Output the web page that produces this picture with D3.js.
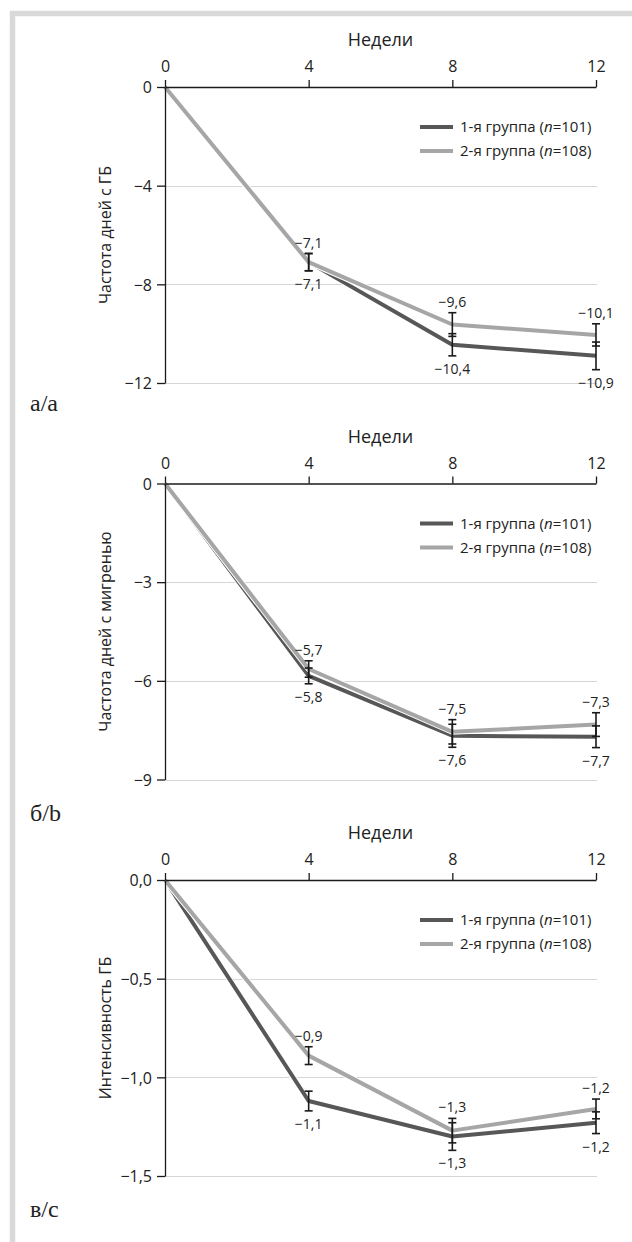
<!DOCTYPE html>
<html><head><meta charset="utf-8">
<script src="https://cdn.jsdelivr.net/npm/d3@7"></script>
<style>
body{margin:0;background:#fff}
svg{display:block}
text{fill:#222}
</style>
</head><body>
<svg id="chart" width="632" height="1242"></svg>
<script>
// ---------- data ----------
const weeks = [0, 4, 8, 12];
const weekTitle = "Недели";
const groupNames = ["1-я группа", "2-я группа"];
const groupN = [101, 108];

// panel а/a : frequency of headache days
const aTitle = "Частота дней с ГБ";
const aLetter = "а/a";
const aTicks = [0, -4, -8, -12];
const aG1 = [0, -7.1, -10.45, -10.9];
const aG2 = [0, -7.1, -9.63, -10.05];
const aE1 = [0, 0.35, 0.45, 0.56];
const aE2 = [0, 0.35, 0.48, 0.45];
const aL1 = ["", "−7,1", "−10,4", "−10,9"];
const aL2 = ["", "−7,1", "−9,6", "−10,1"];

// panel б/b : frequency of migraine days
const bTitle = "Частота дней с мигренью";
const bLetter = "б/b";
const bTicks = [0, -3, -6, -9];
const bG1 = [0, -5.85, -7.67, -7.7];
const bG2 = [0, -5.64, -7.55, -7.33];
const bE1 = [0, 0.24, 0.35, 0.33];
const bE2 = [0, 0.25, 0.37, 0.36];
const bL1 = ["", "−5,8", "−7,6", "−7,7"];
const bL2 = ["", "−5,7", "−7,5", "−7,3"];

// panel в/c : headache intensity
const cTitle = "Интенсивность ГБ";
const cLetter = "в/c";
const cTicks = [0, -0.5, -1.0, -1.5];
const cG1 = [0, -1.12, -1.30, -1.23];
const cG2 = [0, -0.89, -1.27, -1.16];
const cE1 = [0, 0.05, 0.07, 0.055];
const cE2 = [0, 0.045, 0.062, 0.05];
const cL1 = ["", "−1,1", "−1,3", "−1,2"];
const cL2 = ["", "−0,9", "−1,3", "−1,2"];

// ---------- build ----------
const panels = [
  {title: aTitle, letter: aLetter, ticks: aTicks, g1: aG1, g2: aG2, e1: aE1, e2: aE2, l1: aL1, l2: aL2, fmt: ".0f"},
  {title: bTitle, letter: bLetter, ticks: bTicks, g1: bG1, g2: bG2, e1: bE1, e2: bE2, l1: bL1, l2: bL2, fmt: ".0f"},
  {title: cTitle, letter: cLetter, ticks: cTicks, g1: cG1, g2: cG2, e1: cE1, e2: cE2, l1: cL1, l2: cL2, fmt: ".1f"}
];

const SANS = '"Open Sans", sans-serif';
const SERIF = '"Liberation Serif", "DejaVu Serif", serif';
const locale = d3.formatLocale({decimal: ",", thousands: " ", grouping: [3], currency: ["", ""], minus: "−"});
const svg = d3.select("#chart");

// frame (left and top)
svg.append("path")
  .attr("d", "M12.5,1300V13.5H700")
  .attr("fill", "none").attr("stroke", "#d9d9d9").attr("stroke-width", 5.5);

const dark = "#575757", light = "#a6a6a6";
const colors = [dark, light];
const x = d3.scaleLinear().domain([0, 12]).range([165, 596]);
const panelTop = [87, 483.5, 880];
const letterY = [411, 821, 1217];
const plotH = 296;

panels.forEach((p, i) => {
  const top = panelTop[i];
  const y = d3.scaleLinear().domain([d3.min(p.ticks), 0]).range([top + plotH, top]);
  const g = svg.append("g").style("font-family", SANS);

  // gridlines
  g.selectAll(".grid").data(p.ticks.filter(t => t !== 0)).join("line")
    .attr("x1", x(0)).attr("x2", x(12) + 1)
    .attr("y1", d => Math.round(y(d)) + 0.5).attr("y2", d => Math.round(y(d)) + 0.5)
    .attr("stroke", "#d6d6d6").attr("stroke-width", 1);

  // lines
  const line = d3.line().x((d, j) => x(weeks[j])).y(d => y(d));
  [p.g1, p.g2].forEach((s, k) => {
    g.append("path").attr("d", line(s)).attr("fill", "none")
      .attr("stroke", "#fff").attr("stroke-width", 6).attr("stroke-linejoin", "round");
    g.append("path").attr("d", line(s)).attr("fill", "none")
      .attr("stroke", colors[k]).attr("stroke-width", 4).attr("stroke-linejoin", "round");
  });

  // axes
  const xa = g.append("g").attr("transform", `translate(0,${top})`)
    .call(d3.axisTop(x).tickValues(weeks).tickSize(7).tickPadding(8).tickSizeOuter(0));
  const ya = g.append("g").attr("transform", `translate(${x(0)},0)`)
    .call(d3.axisLeft(y).tickValues(p.ticks).tickSize(8).tickPadding(5).tickSizeOuter(0)
      .tickFormat(locale.format(p.fmt)));
  [xa, ya].forEach(a => {
    a.selectAll("path,line").attr("stroke", "#1a1a1a").attr("stroke-width", 1.3);
    a.selectAll("text").style("font-family", SANS).attr("font-size", 16).attr("fill", "#222");
  });
  ya.selectAll("text").attr("dy", "0.36em");

  g.append("text").attr("x", (x(0) + x(12)) / 2).attr("y", top - 41)
    .attr("text-anchor", "middle").attr("font-size", 18).text(weekTitle);

  // error bars
  const cap = 4;
  [[p.g1, p.e1], [p.g2, p.e2]].forEach(([s, e]) => {
    weeks.forEach((w, j) => {
      if (!e[j]) return;
      const cx = x(w), y0 = y(s[j] + e[j]), y1 = y(s[j] - e[j]);
      const eb = g.append("g").attr("stroke", "#1a1a1a").attr("stroke-width", 1.6);
      eb.append("line").attr("x1", cx).attr("x2", cx).attr("y1", y0).attr("y2", y1);
      eb.append("line").attr("x1", cx - cap).attr("x2", cx + cap).attr("y1", y0).attr("y2", y0);
      eb.append("line").attr("x1", cx - cap).attr("x2", cx + cap).attr("y1", y1).attr("y2", y1);
    });
  });

  // value labels
  weeks.forEach((w, j) => {
    if (p.l2[j]) g.append("text").attr("x", x(w)).attr("y", y(p.g2[j] + p.e2[j]) - 6)
      .attr("text-anchor", "middle").attr("font-size", 14).text(p.l2[j]);
    if (p.l1[j]) g.append("text").attr("x", x(w)).attr("y", y(p.g1[j] - p.e1[j]) + 18)
      .attr("text-anchor", "middle").attr("font-size", 14).text(p.l1[j]);
  });

  // legend
  groupNames.forEach((name, k) => {
    const ly = top + 40 + k * 24;
    g.append("line").attr("x1", 420).attr("x2", 453).attr("y1", ly).attr("y2", ly)
      .attr("stroke", colors[k]).attr("stroke-width", 4);
    const t = g.append("text").attr("x", 460).attr("y", ly + 5).attr("font-size", 15);
    t.append("tspan").text(name + " (");
    t.append("tspan").attr("font-style", "italic").text("n");
    t.append("tspan").text("=" + groupN[k] + ")");
  });

  // y title
  g.append("text").attr("transform", `translate(111,${top + plotH / 2}) rotate(-90)`)
    .attr("text-anchor", "middle").attr("font-size", 16).text(p.title);

  // panel letter
  g.append("text").attr("x", 30).attr("y", letterY[i])
    .style("font-family", SERIF).attr("font-size", 24).text(p.letter);
});
</script>
</body></html>
